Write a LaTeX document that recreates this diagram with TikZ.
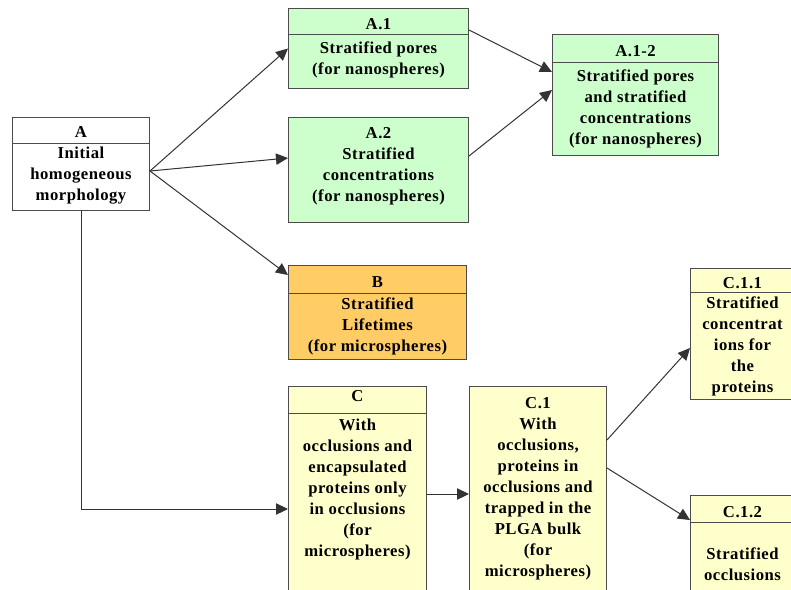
\documentclass[tikz,border=0pt]{standalone}
\usepackage{fontspec}
\setmainfont{Liberation Serif}[LetterSpace=3]
\usetikzlibrary{arrows.meta,calc}
\definecolor{nanogreen}{HTML}{CCFFCC}
\definecolor{microorange}{HTML}{FFCC66}
\definecolor{occyellow}{HTML}{FFFFCC}
\newcommand\boxfont{\bfseries\fontsize{12.5}{15.75}\selectfont}
\tikzset{
  box/.style={draw=black!70, line width=0.75pt, anchor=north west, inner sep=0pt},
  rule/.style={draw=black!70, line width=0.75pt},
  head/.style={inner sep=0pt, font=\boxfont},
  body/.style={inner sep=0pt, align=center, anchor=north, font=\boxfont},
  link/.style={draw=black!80, line width=0.75pt, -{Triangle[length=9pt,width=8.5pt]}}
}
\begin{document}
\begin{tikzpicture}[x=0.75pt, y=-0.75pt]
  \useasboundingbox (0,0) rectangle (791,589);
  \clip (0,0) rectangle (791,589);
  % boxes
  \node[box, fill=white, minimum width=102.75pt, minimum height=69.75pt] (A) at (12,117) {};
  \node[box, fill=nanogreen, minimum width=135pt, minimum height=60pt] (A1) at (288,8) {};
  \node[box, fill=nanogreen, minimum width=135pt, minimum height=78.75pt] (A2) at (288,117) {};
  \node[box, fill=nanogreen, minimum width=124.5pt, minimum height=90.75pt] (A12) at (552,34) {};
  \node[box, fill=microorange, minimum width=133.5pt, minimum height=70.5pt] (B) at (288,265) {};
  \node[box, fill=occyellow, minimum width=103.5pt, minimum height=165pt] (C) at (288,386) {};
  \node[box, fill=occyellow, minimum width=102.75pt, minimum height=165pt] (C1) at (469,386) {};
  \node[box, fill=occyellow, minimum width=78pt, minimum height=98.25pt] (C11) at (690,268) {};
  \node[box, fill=occyellow, minimum width=78pt, minimum height=86.25pt] (C12) at (690,495) {};
  % header rules
  \draw[rule] ($(A.north west)+(0,26)$) -- ($(A.north east)+(0,26)$);
  \draw[rule] ($(A1.north west)+(0,26)$) -- ($(A1.north east)+(0,26)$);
  \draw[rule] ($(A12.north west)+(0,28)$) -- ($(A12.north east)+(0,28)$);
  \draw[rule] ($(B.north west)+(0,28)$) -- ($(B.north east)+(0,28)$);
  \draw[rule] ($(C.north west)+(0,27)$) -- ($(C.north east)+(0,27)$);
  \draw[rule] ($(C11.north west)+(0,24)$) -- ($(C11.north east)+(0,24)$);
  \draw[rule] ($(C12.north west)+(0,27)$) -- ($(C12.north east)+(0,27)$);
  % texts
  \node[head] (A-head) at ($(A.north)+(0,15)$) {A};
  \node[body] (A-body) at ($(A.north)+(0,30)$) {Initial\\homogeneous\\morphology};
  \node[head] (A1-head) at ($(A1.north)+(0,16)$) {A.1};
  \node[body] (A1-body) at ($(A1.north)+(0,33)$) {Stratified pores\\(for nanospheres)};
  \node[body] (A2-body) at ($(A2.north)+(0,10)$) {A.2\\Stratified\\concentrations\\(for nanospheres)};
  \node[head] (A12-head) at ($(A12.north)+(0,17)$) {A.1-2};
  \node[body] (A12-body) at ($(A12.north)+(0,35)$) {Stratified pores\\and stratified\\concentrations\\(for nanospheres)};
  \node[head] (B-head) at ($(B.north)+(0,17)$) {B};
  \node[body] (B-body) at ($(B.north)+(0,32)$) {Stratified\\Lifetimes\\(for microspheres)};
  \node[head] (C-head) at ($(C.north)+(0,10)$) {C};
  \node[body] (C-body) at ($(C.north)+(0,33)$) {With\\occlusions and\\encapsulated\\proteins only\\in occlusions\\(for\\microspheres)};
  \node[body] (C1-body) at ($(C1.north)+(0,11)$) {C.1\\With\\occlusions,\\proteins in\\occlusions and\\trapped in the\\PLGA bulk\\(for\\microspheres)};
  \node[head] (C11-head) at ($(C11.north)+(0,15)$) {C.1.1};
  \node[body] (C11-body) at ($(C11.north)+(0,28)$) {Stratified\\concentrat\\ions for\\the\\proteins};
  \node[head] (C12-head) at ($(C12.north)+(0,17)$) {C.1.2};
  \node[body] (C12-body) at ($(C12.north)+(0,52)$) {Stratified\\occlusions};
  % connectors
  \draw[link] ($(A.east)+(0,7)$) -- (A1.west);
  \draw[link] ($(A.east)+(0,7)$) -- ($(A2.west)+(0,-12)$);
  \draw[link] ($(A.east)+(0,7)$) -- ($(B.north west)+(0,10)$);
  \draw[link] (A.south) |- ($(C.north west)+(0,123)$);
  \draw[link] ($(A1.north east)+(0,22)$) -- ($(A12.north west)+(0,38)$);
  \draw[link] ($(A2.east)+(0,-14)$) -- ($(A12.north west)+(0,56)$);
  \draw[link] ($(C.north east)+(0,108)$) -- ($(C1.north west)+(0,108)$);
  \draw[link] ($(C1.north east)+(0,54)$) -- ($(C11.north west)+(0,80)$);
  \draw[link] ($(C1.north east)+(0,82)$) -- ($(C12.north west)+(0,25)$);
\end{tikzpicture}
\end{document}
